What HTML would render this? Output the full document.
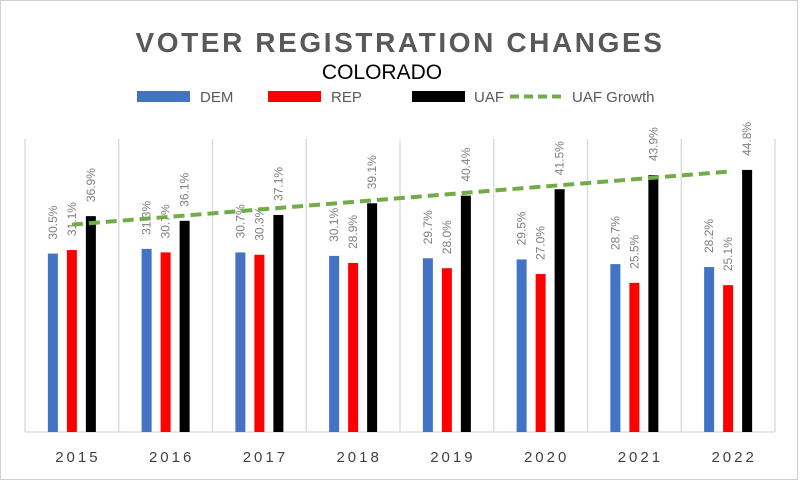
<!DOCTYPE html>
<html><head><meta charset="utf-8"><style>
body{margin:0;background:#fff}
svg{display:block;font-family:"Liberation Sans",sans-serif}
</style></head><body>
<svg id="c" width="800" height="481">
<rect x="0.5" y="0.5" width="797" height="479" fill="#fff" stroke="#d0d0d0"/>
<text x="400" y="52" text-anchor="middle" font-size="28" font-weight="bold" fill="#595959" letter-spacing="2.6">VOTER REGISTRATION CHANGES</text>
<text x="382" y="79" text-anchor="middle" font-size="21" fill="#000">COLORADO</text>
<g>
<rect x="137" y="91" width="53" height="11" fill="#4472c4"/>
<text x="200" y="102" font-size="15" fill="#595959">DEM</text>
<rect x="268" y="91" width="53" height="11" fill="#ff0000"/>
<text x="331" y="102" font-size="15" fill="#595959">REP</text>
<rect x="412" y="91" width="53" height="11" fill="#000"/>
<text x="474" y="102" font-size="15" fill="#595959">UAF</text>
<line x1="510" y1="96.5" x2="563" y2="96.5" stroke="#70ad47" stroke-width="4" stroke-dasharray="9,5"/>
<text x="572" y="102" font-size="15" fill="#595959">UAF Growth</text>
</g>
<g id="plot"></g>
</svg>
<script>
const years=["2015","2016","2017","2018","2019","2020","2021","2022"];
const dem=[30.5,31.3,30.7,30.1,29.7,29.5,28.7,28.2];
const rep=[31.1,30.7,30.3,28.9,28.0,27.0,25.5,25.1];
const uaf=[36.9,36.1,37.1,39.1,40.4,41.5,43.9,44.8];
const NS="http://www.w3.org/2000/svg";
const plot=document.getElementById('plot');
const left=25,right=775,base=432,top0=139;
const bw=(right-left)/years.length;
const y=v=>base-v*5.85;
const xc=i=>left+bw*(i+0.5);
function mk(t,a){const e=document.createElementNS(NS,t);for(const k in a)e.setAttribute(k,a[k]);plot.appendChild(e);return e;}
for(let i=0;i<=years.length;i++){
 const g=mk('line',{x1:left+bw*i,x2:left+bw*i,y1:top0,y2:base,stroke:'#d9d9d9','stroke-width':1.3});
 
 
}
const ax=mk('line',{x1:left,x2:right,y1:base,y2:base,stroke:'#d9d9d9','stroke-width':1.3});


const series=[[dem,'#4472c4',-19,'dem'],[rep,'#ff0000',0,'rep'],[uaf,'#000',19,'uaf']];
years.forEach((yr,i)=>{
 series.forEach(([d,c,off,n])=>{
  const cx=xc(i)+off;
  const r=mk('rect',{x:cx-5,y:y(d[i]),width:10,height:base-y(d[i]),fill:c});
  
  
  const t=mk('text',{x:0,y:0,'font-size':12,fill:'#7f7f7f',transform:`translate(${cx+4},${y(d[i])-14}) rotate(-90)`});
  t.textContent=d[i].toFixed(1)+'%';
  
  
 });
 const l=mk('text',{x:xc(i)+6,y:462,'font-size':15,fill:'#404040','text-anchor':'middle','letter-spacing':3});
 l.textContent=yr;
 
 
});
const n=uaf.length;const mx=(n-1)/2;const my=uaf.reduce((a,b)=>a+b,0)/n;
let sxy=0,sxx=0;uaf.forEach((v,i)=>{sxy+=(i-mx)*(v-my);sxx+=(i-mx)*(i-mx);});
const sl=sxy/sxx,ic=my-sl*mx;
const tl=mk('line',{x1:xc(0),y1:y(ic),x2:xc(n-1),y2:y(ic+sl*(n-1)),stroke:'#70ad47','stroke-width':4,'stroke-dasharray':'11,6'});


</script>
</body></html>
